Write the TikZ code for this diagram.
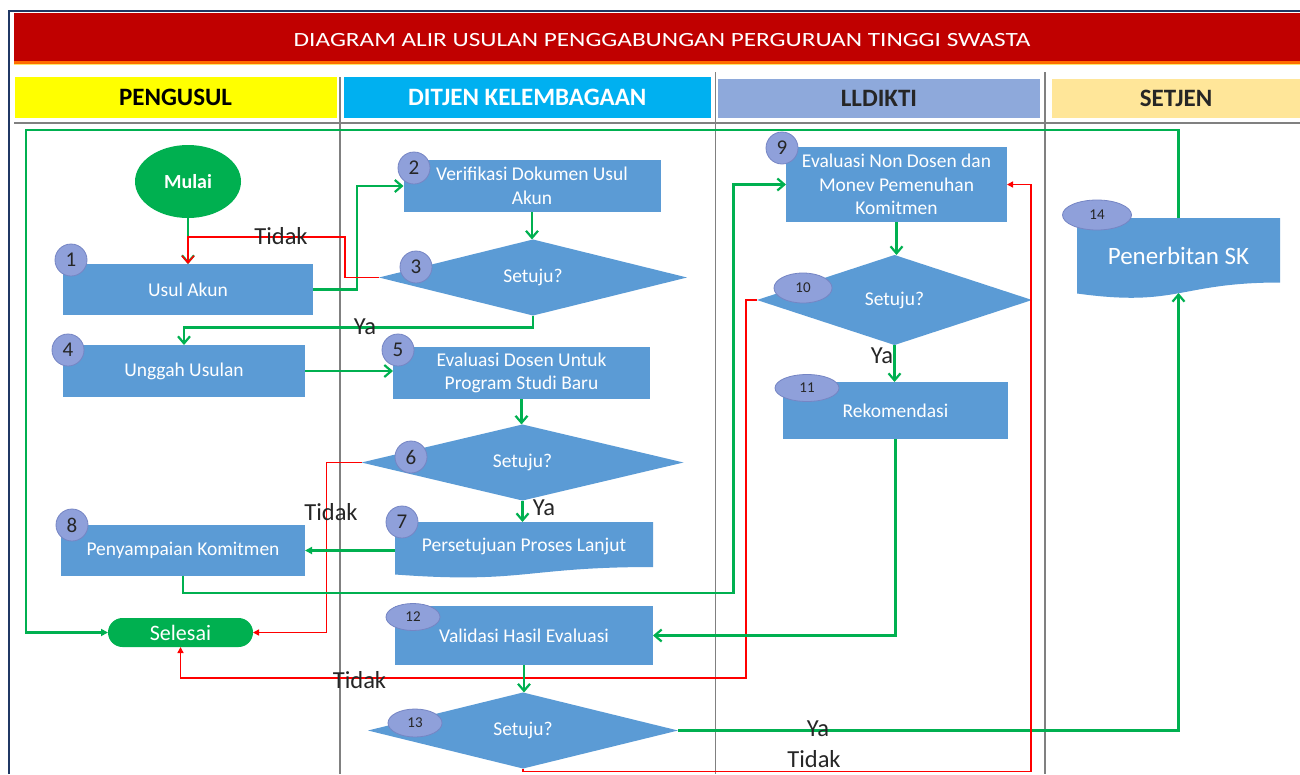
\documentclass[tikz,border=0pt]{standalone}
\usepackage{fontspec}
\setmainfont{Carlito}
\newfontfamily\titlefont{Carlito}[FakeStretch=1.25]
\usetikzlibrary{shapes.geometric,arrows.meta}
\definecolor{boxblue}{HTML}{5B9BD5}
\definecolor{flowgreen}{HTML}{00B050}
\definecolor{flowred}{HTML}{FF0000}
\definecolor{titlered}{HTML}{C00000}
\definecolor{framenavy}{HTML}{203864}
\definecolor{hdryellow}{HTML}{FFFF00}
\definecolor{hdrcyan}{HTML}{00B0F0}
\definecolor{hdrblue}{HTML}{8EA9DB}
\definecolor{hdrsand}{HTML}{FFE699}
\definecolor{lanegray}{HTML}{808080}
\definecolor{badgefill}{HTML}{8FA0DA}
\definecolor{badgeedge}{HTML}{7585C4}
\definecolor{labelgray}{HTML}{262626}
\begin{document}
\begin{tikzpicture}[x=1pt,y=-1pt,
  box/.style={rectangle, fill=boxblue, text=white, font=\fontsize{19.5}{23.5}\selectfont, align=center, inner sep=0pt, outer sep=0pt},
  txt/.style={rectangle, text=white, font=\fontsize{19.5}{23.5}\selectfont, align=center, inner sep=0pt, outer sep=0pt},
  dia/.style={diamond, fill=boxblue, text=white, font=\fontsize{19.5}{23.5}\selectfont, inner sep=0pt, outer sep=0pt},
  badge/.style={circle, fill=badgefill, draw=badgeedge, line width=0.8, minimum size=32, inner sep=0pt, font=\fontsize{21}{21}\selectfont, text=labelgray},
  sbadge/.style={ellipse, fill=badgefill, draw=badgeedge, line width=0.8, inner sep=0pt, font=\fontsize{15}{15}\selectfont, text=labelgray},
  hdr/.style={rectangle, inner sep=0pt, outer sep=0pt, font=\bfseries\fontsize{25}{25}\selectfont},
  garr/.style={draw=flowgreen, line width=2.2, -{Straight Barb[length=7,width=12]}},
  garrs/.style={draw=flowgreen, line width=2.2, -{Triangle[length=7,width=7]}},
  rarr/.style={draw=flowred, line width=1.6, -{Triangle[length=6,width=6]}},
  rarrb/.style={draw=flowred, line width=1.6, -{Straight Barb[length=7,width=12]}},
  lbl/.style={font=\fontsize{24.5}{24.5}\selectfont, text=labelgray, inner sep=0pt},
  lane/.style={draw=lanegray, line width=1.3}
]
\useasboundingbox (0,0) rectangle (1300,774);
\fill[white] (0,0) rectangle (1300,774);

% frame and title
\draw[framenavy, line width=2.2] (9,774) -- (9,11) -- (1300,11);
\fill[titlered] (14,13) rectangle (1300,61);
\fill[orange!85!red] (14,61) rectangle (1300,63.5);
\fill[yellow!70!orange, opacity=.6] (14,63.5) rectangle (1300,65);
\node[font=\fontsize{20.2}{24}\titlefont, text=white, inner sep=0pt] (title) at (662,40) {DIAGRAM ALIR USULAN PENGGABUNGAN PERGURUAN TINGGI SWASTA};

% lane headers
\node[hdr, fill=hdryellow, minimum width=322, minimum height=41, text=black] (hp) at (175.5,97.5) {PENGUSUL};
\node[hdr, fill=hdrcyan, minimum width=367.5, minimum height=41, text=white] (hd) at (527.25,97.5) {DITJEN KELEMBAGAAN};
\node[hdr, fill=hdrblue, minimum width=322, minimum height=39, text=labelgray] (hl) at (879,98.5) {LLDIKTI};
\node[hdr, fill=hdrsand, minimum width=248, minimum height=39, text=labelgray] (hs) at (1176,98.5) {SETJEN};

% lane lines
\draw[lane] (340,77) -- (340,774);
\draw[lane] (715.5,72) -- (715.5,774);
\draw[lane] (1045,72) -- (1045,774);
\draw[lane] (14,123) -- (1300,123);

% nodes
\node[ellipse, fill=flowgreen, minimum width=106, minimum height=73, inner sep=0pt, outer sep=0pt, text=white, font=\bfseries\fontsize{20}{20}\selectfont] (mulai) at (188,181.5) {Mulai};
\node[box, minimum width=250, minimum height=51] (n1) at (188,289.5) {Usul Akun};
\node[box, minimum width=257, minimum height=52] (n2) at (532,186) {Verifikasi Dokumen Usul\\Akun};
\node[dia, minimum width=308, minimum height=67] (d3) at (533,277.5) {Setuju?};
\node[box, minimum width=242, minimum height=52] (n4) at (184,371) {Unggah Usulan};
\node[box, minimum width=257, minimum height=52] (n5) at (521.5,373) {Evaluasi Dosen Untuk\\Program Studi Baru};
\node[dia, minimum width=322, minimum height=67] (d6) at (522.5,462.5) {Setuju?};
\fill[boxblue] (395,522) -- (653,522) -- (653,567) .. controls (524,567) and (524,584) .. (395,574.5) -- cycle;
\node[txt, minimum width=258, minimum height=48] (n7) at (524,546) {Persetujuan Proses Lanjut};
\node[box, minimum width=244, minimum height=51] (n8) at (183,550.5) {Penyampaian Komitmen};
\node[box, minimum width=221, minimum height=75] (n9) at (896.5,184.5) {Evaluasi Non Dosen dan\\Monev Pemenuhan\\Komitmen};
\node[dia, minimum width=275, minimum height=90] (d10) at (894.5,300) {Setuju?};
\node[box, minimum width=225, minimum height=57] (n11) at (895.5,410.5) {Rekomendasi};
\node[box, minimum width=258, minimum height=59] (n12) at (524,635.5) {Validasi Hasil Evaluasi};
\node[dia, minimum width=310, minimum height=67] (d13) at (523,730.5) {Setuju?};
\fill[boxblue] (1077,218) -- (1280,218) -- (1280,282.5) .. controls (1178.5,282.5) and (1178.5,307.5) .. (1077,293.5) -- cycle;
\node[txt, font=\fontsize{25}{25}\selectfont, minimum width=203, minimum height=75] (n14) at (1178.5,255.5) {Penerbitan SK};
\node[rectangle, rounded corners=14.5, fill=flowgreen, minimum width=145, minimum height=29, inner sep=0pt, outer sep=0pt, text=white, font=\fontsize{22}{22}\selectfont] (selesai) at (180.5,632.5) {Selesai};

% badges
\node[badge] (b1) at (71,260) {1};
\node[badge] (b2) at (414,168) {2};
\node[badge] (b3) at (416,267) {3};
\node[badge] (b4) at (68,350) {4};
\node[badge] (b5) at (398,350) {5};
\node[badge] (b6) at (411,457) {6};
\node[badge] (b7) at (402,522) {7};
\node[badge] (b8) at (72,525) {8};
\node[badge] (b9) at (782,148) {9};
\node[sbadge, minimum width=58, minimum height=30] (b10) at (803,288) {10};
\node[sbadge, minimum width=64, minimum height=27] (b11) at (807,388) {11};
\node[sbadge, minimum width=54, minimum height=27] (b12) at (413,617) {12};
\node[sbadge, minimum width=54, minimum height=28] (b13) at (415,723) {13};
\node[sbadge, minimum width=69, minimum height=30] (b14) at (1097,215) {14};

% bend points
\coordinate (c12) at (357,240);
\coordinate (r31) at (345,237);
\coordinate (c34) at (300,327.5);
\coordinate (c6) at (326.5,550);
\coordinate (c89) at (733.5,593);
\coordinate (c10) at (746,678);
\coordinate (c13) at (1031,771.5);
\coordinate (ctop) at (26,130);

% connectors
\draw[garr] (mulai.south) -- (n1.north);
\draw[garr] (n1.east) -| (c12) |- (n2.west);
\draw[rarrb] (d3.west) -| (r31) -| (n1.north);
\draw[garr] (n2.south) -- (n2.south |- d3.north);
\draw[garr] (d3.south) |- (c34) -| (n4.north);
\draw[garr] (n4.east) -- (n4.east -| n5.west);
\draw[garr] (n5.south) -- (n5.south |- d6.north);
\draw[garr] (d6.south) -- (d6.south |- n7.north);
\draw[rarr] (d6.west) -| (c6) |- (selesai.east);
\draw[garrs] (n7.west |- n8.east) -- (n8.east);
\draw[garr] (n8.south) |- (c89) |- (n9.west);
\draw[garr] (n9.south) -- (n9.south |- d10.north);
\draw[rarr] (d10.west) -| (c10) -| (selesai.south);
\draw[garr] (d10.south) -- (d10.south |- n11.north);
\draw[garr] (n11.south) |- (n12.east);
\draw[garr] (n12.south) -- (n12.south |- d13.north);
\draw[garr] (d13.east) -| (n14.south);
\draw[rarr] (d13.south) |- (c13) |- (n9.east);
\draw[garrs] (n14.north) |- (ctop) |- (selesai.west);

% labels
\node[lbl] (t1) at (281,236.5) {Tidak};
\node[lbl] (y1) at (365,327) {Ya};
\node[lbl] (y2) at (544,508) {Ya};
\node[lbl] (t2) at (331,512) {Tidak};
\node[lbl] (t3) at (359.5,680) {Tidak};
\node[lbl] (y3) at (882,356) {Ya};
\node[lbl] (y4) at (818,729) {Ya};
\node[lbl] (t4) at (814,759) {Tidak};
\end{tikzpicture}
\end{document}
